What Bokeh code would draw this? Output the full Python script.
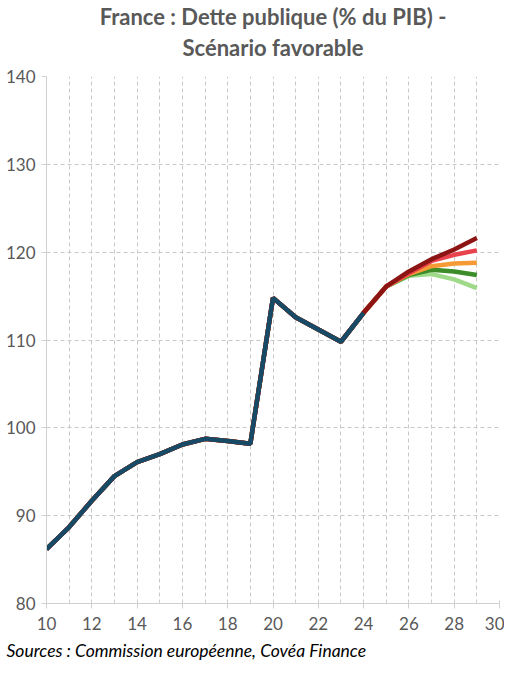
from bokeh.plotting import figure
from bokeh.models import Title, FixedTicker, Range1d
from bokeh.embed import file_html
from bokeh.resources import INLINE

years_hist = [10, 11, 12, 13, 14, 15, 16, 17, 18, 19, 20, 21, 22, 23, 24]
debt_hist = [86.2, 88.7, 91.7, 94.5, 96.1, 97.0, 98.1, 98.75, 98.5, 98.2, 114.8, 112.6, 111.2, 109.8, 113.1]

years_scen = [10, 11, 12, 13, 14, 15, 16, 17, 18, 19, 20, 21, 22, 23, 24, 25, 26, 27, 28, 29]
hist_part = [86.2, 88.7, 91.7, 94.5, 96.1, 97.0, 98.1, 98.75, 98.5, 98.2, 114.8, 112.6, 111.2, 109.8, 113.1, 116.1]
scen_light_green = hist_part + [117.3, 117.5, 116.9, 115.9]
scen_dark_green = hist_part + [117.4, 118.0, 117.8, 117.4]
scen_orange = hist_part + [117.5, 118.4, 118.7, 118.8]
scen_red = hist_part + [117.6, 119.0, 119.7, 120.2]
scen_dark_red = hist_part + [117.8, 119.2, 120.3, 121.6]

FONT = "Lato"
GRAY = "#595959"

p = figure(width=504, height=675, output_backend="svg", toolbar_location=None,
           x_range=Range1d(10, 30), y_range=Range1d(80, 140),
           min_border_left=46, min_border_right=5, min_border_top=76, min_border_bottom=72)
p.outline_line_color = None
p.background_fill_color = "white"
p.border_fill_color = "white"

# titles
spacer = Title(text=" ", align="center", text_font=FONT, text_font_size="9px", standoff=0)
t2 = Title(text="Scénario favorable", align="center", text_font=FONT, text_font_size="22px",
           text_font_style="bold", text_color=GRAY, standoff=5)
t1 = Title(text="France : Dette publique (% du PIB) -", align="center", text_font=FONT,
           text_font_size="22px", text_font_style="bold", text_color=GRAY, standoff=0)
p.add_layout(spacer, "above")
p.add_layout(t2, "above")
p.add_layout(t1, "above")

src = Title(text="Sources : Commission européenne, Covéa Finance", align="left", text_font=FONT,
            text_font_size="17.5px", text_font_style="italic", text_color="#000000", offset=-40)
p.add_layout(src, "below")

# grids
p.xgrid.ticker = FixedTicker(ticks=list(range(10, 31)))
p.xgrid.grid_line_color = "#c8c8c8"
p.xgrid.grid_line_dash = "4 3"
p.ygrid.grid_line_color = "#c8c8c8"
p.ygrid.grid_line_dash = "4 3"

p.xaxis.ticker = FixedTicker(ticks=list(range(10, 31, 2)), minor_ticks=list(range(10, 31)))
p.yaxis.ticker = FixedTicker(ticks=list(range(80, 141, 10)))
for ax in (p.xaxis, p.yaxis):
    ax.axis_line_color = "#d0d0d0"
    ax.major_tick_line_color = "#d0d0d0"
    ax.minor_tick_line_color = "#d0d0d0"
    ax.major_label_text_font = FONT
    ax.major_label_text_font_size = "17px"
    ax.major_label_text_color = GRAY
    ax.major_tick_in = 0
    ax.major_tick_out = 5
    ax.minor_tick_in = 3
    ax.minor_tick_out = 0
p.yaxis.minor_tick_line_color = None
p.xaxis.major_label_standoff = 8
p.yaxis.major_label_standoff = 6

p.line(years_scen, scen_light_green, line_color="#9fd98a", line_width=4.5)
p.line(years_scen, scen_dark_green, line_color="#3c8c2a", line_width=4.5)
p.line(years_scen, scen_orange, line_color="#f59a35", line_width=4.5)
p.line(years_scen, scen_red, line_color="#e8424c", line_width=4.5)
p.line(years_scen, scen_dark_red, line_color="#8c1414", line_width=4.5)
p.line(years_hist, debt_hist, line_color="#174a66", line_width=4.5)

open("out.html", "w").write(file_html(p, INLINE))
